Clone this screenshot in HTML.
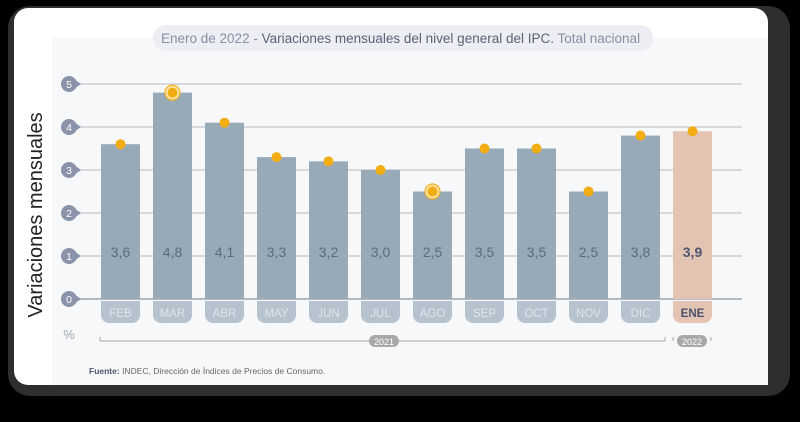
<!DOCTYPE html>
<html><head><meta charset="utf-8"><style>
html,body{margin:0;padding:0;background:#000;}
body{width:800px;height:417px;overflow:hidden;position:relative;font-family:"Liberation Sans",sans-serif;}
</style></head><body>
<svg width="800" height="417" xmlns="http://www.w3.org/2000/svg">
<rect x="8" y="6" width="782" height="390" rx="22" fill="#2e2e2e"/>
<rect x="14" y="8" width="754" height="377" rx="14" fill="#ffffff"/>
<rect x="52" y="38" width="716" height="347" fill="#f7f8fa"/>
<rect x="153" y="25" width="500" height="26" rx="13" fill="#eceef4"/>
<text x="161" y="43" font-size="13.5" fill="#8a8fa3">Enero de 2022 - <tspan fill="#5d6175">Variaciones mensuales del nivel general del IPC.</tspan> Total nacional</text>
<text transform="translate(42,215) rotate(-90)" text-anchor="middle" font-size="20" fill="#222">Variaciones mensuales</text>
<text x="69" y="339" text-anchor="middle" font-size="13" fill="#a0a4b0">%</text>
<g id="grid"></g>
<g id="bars"></g>
<line x1="100" y1="341" x2="665" y2="341" stroke="#a8a8a8" stroke-width="1"/>
<line x1="100" y1="337" x2="100" y2="341" stroke="#a8a8a8"/>
<line x1="665" y1="337" x2="665" y2="341" stroke="#a8a8a8"/>
<rect x="369" y="335" width="30" height="12" rx="6" fill="#a8a8a8"/>
<text x="384" y="345" text-anchor="middle" font-size="9" fill="#fff">2021</text>
<line x1="673" y1="337" x2="673" y2="341" stroke="#a8a8a8"/>
<line x1="711" y1="337" x2="711" y2="341" stroke="#a8a8a8"/>
<rect x="677" y="335" width="30" height="12" rx="6" fill="#a8a8a8"/>
<text x="692" y="345" text-anchor="middle" font-size="9" fill="#fff">2022</text>
<text x="89" y="374" font-size="8.5" fill="#666"><tspan font-weight="bold" fill="#4d5670">Fuente:</tspan> INDEC, Dirección de Índices de Precios de Consumo.</text>
</svg>
<script>
const categories=["FEB","MAR","ABR","MAY","JUN","JUL","AGO","SEP","OCT","NOV","DIC","ENE"];
const values=[3.6,4.8,4.1,3.3,3.2,3.0,2.5,3.5,3.5,2.5,3.8,3.9];
const valueLabels=["3,6","4,8","4,1","3,3","3,2","3,0","2,5","3,5","3,5","2,5","3,8","3,9"];
const yTicks=[0,1,2,3,4,5];
const NS="http://www.w3.org/2000/svg";
const y=v=>299-v*43;
const x=i=>120.5+i*52;
function mk(t,a,p){const e=document.createElementNS(NS,t);for(const k in a)e.setAttribute(k,a[k]);p.appendChild(e);return e;}
const grid=document.getElementById('grid'),bars=document.getElementById('bars');
yTicks.forEach(t=>{
  const l=mk('line',{x1:78,x2:742,y1:y(t),y2:y(t),stroke:t===0?'#b4b8c0':'#c4c6cc','stroke-width':t===0?2:1.2},grid);
  
  
  mk('path',{d:`M74,${y(t)-5} L81,${y(t)} L74,${y(t)+5}z`,fill:'#8a93aa'},grid);
  const c=mk('circle',{cx:69,cy:y(t),r:8,fill:'#8a93aa'},grid);
  
  
  const tx=mk('text',{x:69,y:y(t)+4,'text-anchor':'middle','font-size':10.5,fill:'#fff'},grid);
  tx.textContent=t;
  
  
});
categories.forEach((c,i)=>{
  const last=i===categories.length-1;
  const b=mk('rect',{x:x(i)-19.5,y:y(values[i]),width:39,height:y(0)-y(values[i]),fill:last?'#e3c3b1':'#98a9b8'},bars);
  
  
  const p=mk('path',{d:`M${x(i)-19.5},301 h39 v14 a8,8 0 0,1 -8,8 h-23 a8,8 0 0,1 -8,-8z`,fill:last?'#e3c3b1':'#b6c2cd'},bars);
  
  
  const m=mk('text',{x:x(i),y:317,'text-anchor':'middle','font-size':11.5,fill:last?'#4d5670':'#dfe5ea','font-weight':last?'bold':'normal'},bars);
  m.textContent=c;
  
  
  const v=mk('text',{x:x(i),y:257,'text-anchor':'middle','font-size':14,fill:last?'#4d5670':'#5d6a7e','font-weight':last?'bold':'normal'},bars);
  v.textContent=valueLabels[i];
  
  
  if(c==='MAR'||c==='AGO'){mk('circle',{cx:x(i),cy:y(values[i]),r:7.5,fill:'#fbe3a8',stroke:'#f0b020','stroke-width':1.2},bars);}
  const d=mk('circle',{cx:x(i),cy:y(values[i]),r:5,fill:'#f2ad13'},bars);
  
  
});
</script>
</body></html>
